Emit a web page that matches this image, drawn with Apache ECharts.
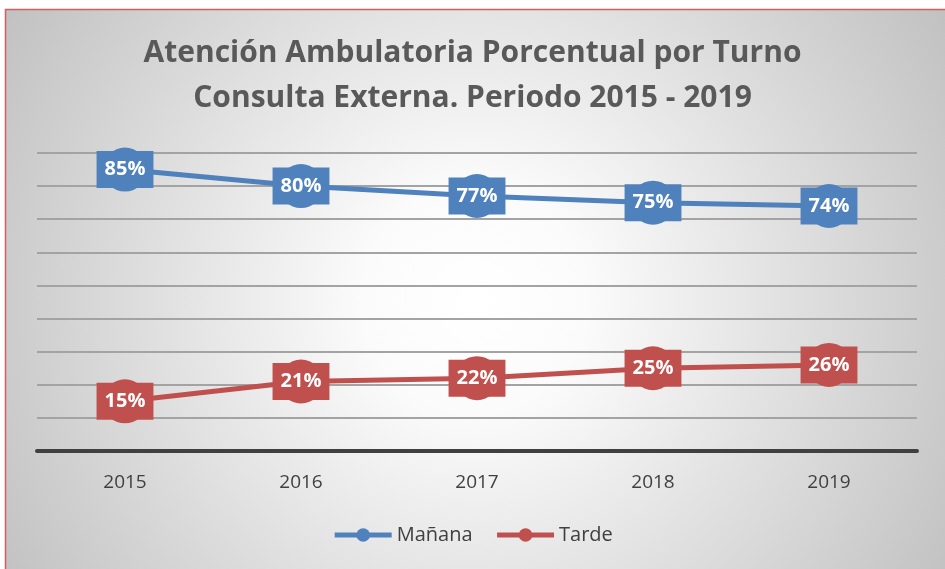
<!DOCTYPE html>
<html lang="es">
<head>
  <meta charset="UTF-8">
  <title>Atención Ambulatoria Porcentual por Turno</title>
  <script src="https://cdn.jsdelivr.net/npm/echarts@6/dist/echarts.min.js"></script>
  <style>
    html, body { margin: 0; padding: 0; background: #fff; }
    #chart { width: 945px; height: 569px; }
  </style>
</head>
<body>
  <div id="chart"></div>
  <script>
    const years = ['2015', '2016', '2017', '2018', '2019'];
    const manana = [85, 80, 77, 75, 74];
    const tarde = [15, 21, 22, 25, 26];
    const titleText = 'Atención Ambulatoria Porcentual por Turno\nConsulta Externa. Periodo 2015 - 2019';

    const blue = '#4F81BD';
    const red = '#C0504D';
    const font = '"Open Sans", "Noto Sans", sans-serif';

    const chart = echarts.init(document.getElementById('chart'));

    // etiqueta tipo recuadro encima del marcador
    function boxLabel(color) {
      return {
        show: true,
        position: 'inside',
        formatter: '{c}%',
        color: '#fff',
        fontFamily: font,
        fontWeight: 'bold',
        fontSize: 20,
        lineHeight: 25,
        backgroundColor: color,
        padding: [7, 8, 5, 8]
      };
    }

    const option = {
      backgroundColor: '#ffffff',
      graphic: [{
        type: 'rect',
        z: -10,
        silent: true,
        shape: { x: 5.5, y: 9.5, width: 960, height: 580 },
        style: {
          fill: new echarts.graphic.RadialGradient(475, 300, 560, [
            { offset: 0, color: '#ffffff' },
            { offset: 0.2, color: '#fbfbfb' },
            { offset: 1, color: '#c0c0c0' }
          ], true),
          stroke: '#d06060',
          lineWidth: 1.5
        }
      }],
      title: {
        text: titleText,
        left: 'center',
        top: 26,
        textStyle: {
          fontFamily: font,
          fontWeight: 'bold',
          fontSize: 30,
          lineHeight: 45,
          color: '#595959'
        }
      },
      legend: {
        bottom: 19,
        left: 'center',
        itemWidth: 57,
        itemHeight: 17,
        itemGap: 22,
        lineStyle: { width: 5 },
        textStyle: { fontFamily: font, fontSize: 20, color: '#404040' },
        data: ['Mañana', 'Tarde']
      },
      grid: { left: 37, right: 28, top: 153, bottom: 118 },
      xAxis: {
        type: 'category',
        data: years,
        axisTick: { show: false },
        axisLine: { lineStyle: { color: '#404040', width: 4 } },
        axisLabel: { margin: 22, fontFamily: font, fontSize: 19, color: '#404040' }
      },
      yAxis: {
        type: 'value',
        min: 0,
        max: 90,
        interval: 10,
        axisLabel: { show: false },
        axisLine: { show: false },
        axisTick: { show: false },
        splitLine: { lineStyle: { color: '#a3a3a3', width: 2 } }
      },
      series: [
        {
          name: 'Mañana',
          type: 'line',
          data: manana,
          symbol: 'circle',
          symbolSize: 44,
          itemStyle: { color: blue },
          lineStyle: { color: blue, width: 5 },
          label: boxLabel(blue)
        },
        {
          name: 'Tarde',
          type: 'line',
          data: tarde,
          symbol: 'circle',
          symbolSize: 44,
          itemStyle: { color: red },
          lineStyle: { color: red, width: 5 },
          label: boxLabel(red)
        }
      ]
    };
    chart.setOption(option);
  </script>
</body>
</html>
